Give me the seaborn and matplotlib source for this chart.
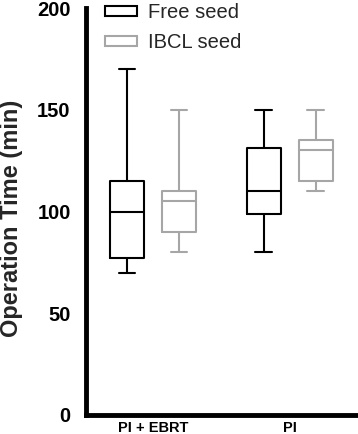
import numpy as np
import pandas as pd
import matplotlib
matplotlib.use("Agg")
import matplotlib.pyplot as plt
from matplotlib.patches import Patch
import seaborn as sns

# five-number summaries: min, Q1, median, Q3, max
groups = ["PI + EBRT", "PI"]
seeds = ["Free seed", "IBCL seed"]
free_ebrt = [70, 77, 100, 115, 170]
ibcl_ebrt = [80, 90, 105, 110, 150]
free_pi = [80, 99, 110, 131, 150]
ibcl_pi = [110, 115, 130, 135, 150]
colors = {"Free seed": "black", "IBCL seed": "#a6a6a6"}

rows = []
for grp, seed, vals in [(groups[0], seeds[0], free_ebrt), (groups[0], seeds[1], ibcl_ebrt),
                        (groups[1], seeds[0], free_pi), (groups[1], seeds[1], ibcl_pi)]:
    for v in vals:
        rows.append({"group": grp, "seed": seed, "time": v})
df = pd.DataFrame(rows)

sns.set_style("white")
plt.rcParams['font.family'] = ['Liberation Sans', 'DejaVu Sans']

W, H = 358, 434
fig = plt.figure(figsize=(W / 100, H / 100), dpi=100)
ax = fig.add_axes([86 / W, 1 - 415 / H, 1 - 86 / W, (415 - 8) / H])

sns.boxplot(data=df, x="group", y="time", hue="seed", hue_order=seeds, order=groups,
            palette=colors, fill=False, whis=(0, 100), width=0.76, gap=0.35,
            linewidth=1.5, legend=False, ax=ax)

ax.set_xlim(-0.49, 1.5)
ax.set_ylim(0, 200)
ax.set_yticks([0, 50, 100, 150, 200])
sns.despine(ax=ax)
for s in ["left", "bottom"]:
    ax.spines[s].set_linewidth(3.5)
    ax.spines[s].set_color("black")
    ax.spines[s].set_capstyle("projecting")
ax.tick_params(axis="y", length=7, width=3, pad=4, labelsize=14.5, colors="black")
ax.tick_params(axis="x", length=0, pad=4, labelsize=10.5, colors="black")
for lab in ax.get_yticklabels() + ax.get_xticklabels():
    lab.set_fontweight("bold")
ax.set_xlabel("")
ax.set_ylabel("")
fig.text(12 / W, 1 - 218 / H, "Operation Time (min)", rotation=90, ha="center", va="center",
         fontsize=17, fontweight="bold")

handles = [Patch(facecolor="white", edgecolor=colors[s], linewidth=1.5, label=s) for s in seeds]
fig.legend(handles=handles, loc="upper left", bbox_to_anchor=(105 / W, 1 - 3 / H), frameon=False,
           fontsize=14.5, handlelength=1.6, handleheight=0.4, handletextpad=0.55,
           labelspacing=0.55, borderpad=0, borderaxespad=0)

fig.savefig("out.png", dpi=100)
